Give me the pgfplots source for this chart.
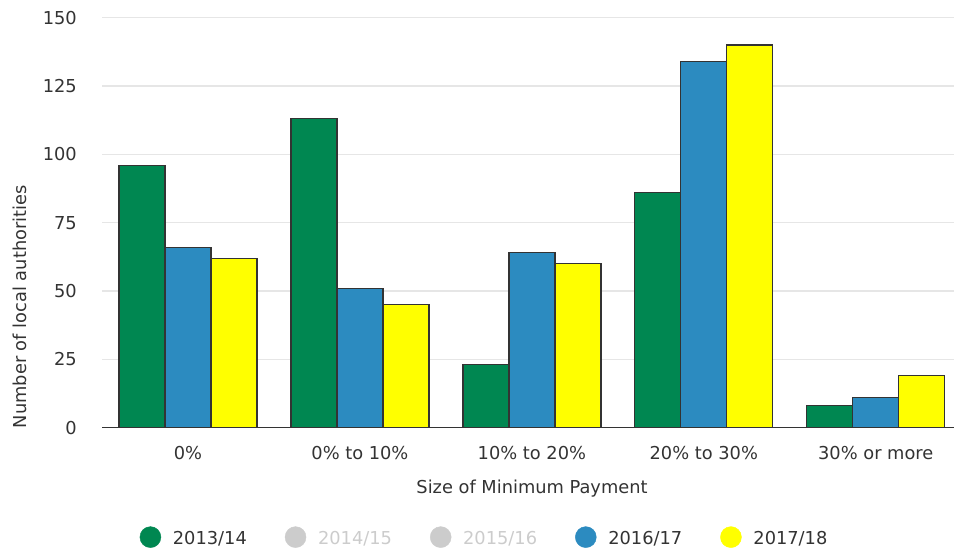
\documentclass[border=0pt]{standalone}
\usepackage{fontspec}
\setmainfont{DejaVu Sans}
\usepackage{pgfplots}
\pgfplotsset{compat=1.18}
\definecolor{cgreen}{RGB}{0,135,81}
\definecolor{cblue}{RGB}{44,139,192}
\definecolor{cyellow}{RGB}{255,255,0}
\definecolor{cgrey}{RGB}{204,204,204}
\definecolor{ctext}{RGB}{51,51,51}
\definecolor{cgrid}{RGB}{230,230,230}
\begin{document}
\fontsize{17.8bp}{21bp}\selectfont
\begin{tikzpicture}
\useasboundingbox (0,0) rectangle (954bp,554bp);
\begin{axis}[
  at={(102bp,126.3bp)}, anchor=south west,
  scale only axis, width=852bp, height=410bp,
  xmin=-0.5, xmax=4.455, ymin=0, ymax=150,
  axis lines*=left,
  y axis line style={draw=none},
  x axis line style={ctext, line width=1.5bp},
  ytick={0,25,...,150},
  ymajorgrids, grid style={cgrid, line width=1.2bp},
  xtick={0,1,2,3,4},
  xticklabels={0\%, 0\% to 10\%, 10\% to 20\%, 20\% to 30\%, 30\% or more},
  major tick length=0pt,
  /pgf/number format/assume math mode=true,
  tick label style={color=ctext, font=\fontsize{17.8bp}{21bp}\selectfont},
  yticklabel style={anchor=east, inner sep=0pt, xshift=-25bp},
  xticklabel style={anchor=base, inner sep=0pt, yshift=-31.8bp},
  ylabel={Number of local authorities},
  ylabel style={at={(rel axis cs:-0.0962,0.295)}, anchor=center, inner sep=0pt, color=ctext, font=\fontsize{17.8bp}{21bp}\selectfont},
  xlabel={Size of Minimum Payment},
  xlabel style={at={(rel axis cs:0.5047,0)}, anchor=base, inner sep=0pt, yshift=-66bp, color=ctext, font=\fontsize{17.8bp}{21bp}\selectfont},
  legend columns=5,
  legend style={at={(rel axis cs:0.449,-0.269)}, anchor=center, draw=none, fill=none,
    text=ctext, font=\fontsize{17.8bp}{21bp}\selectfont,
    /tikz/every even column/.append style={column sep=36bp}},
]
\addplot[ybar, bar width=46bp, bar shift=-46bp, fill=cgreen, draw=ctext, line width=1.3bp, forget plot]
  coordinates {(0,96) (1,113) (2,23) (3,86) (4,8)};
\addplot[ybar, bar width=46bp, bar shift=0bp, fill=cblue, draw=ctext, line width=1.3bp, forget plot]
  coordinates {(0,66) (1,51) (2,64) (3,134) (4,11)};
\addplot[ybar, bar width=46bp, bar shift=46bp, fill=cyellow, draw=ctext, line width=1.3bp, forget plot]
  coordinates {(0,62) (1,45) (2,60) (3,140) (4,19)};
\addlegendimage{legend image code/.code={\path[draw=none,fill=none] (0bp,0bp) rectangle (31bp,0.1bp); \fill[cgreen] (10.5bp,2.5bp) circle (10.5bp);}}
\addlegendentry{2013/14}
\addlegendimage{legend image code/.code={\path[draw=none,fill=none] (0bp,0bp) rectangle (31bp,0.1bp); \fill[cgrey] (10.5bp,2.5bp) circle (10.5bp);}}
\addlegendentry{\textcolor{cgrey}{2014/15}}
\addlegendimage{legend image code/.code={\path[draw=none,fill=none] (0bp,0bp) rectangle (31bp,0.1bp); \fill[cgrey] (10.5bp,2.5bp) circle (10.5bp);}}
\addlegendentry{\textcolor{cgrey}{2015/16}}
\addlegendimage{legend image code/.code={\path[draw=none,fill=none] (0bp,0bp) rectangle (31bp,0.1bp); \fill[cblue] (10.5bp,2.5bp) circle (10.5bp);}}
\addlegendentry{2016/17}
\addlegendimage{legend image code/.code={\path[draw=none,fill=none] (0bp,0bp) rectangle (31bp,0.1bp); \fill[cyellow] (10.5bp,2.5bp) circle (10.5bp);}}
\addlegendentry{2017/18}
\end{axis}
\end{tikzpicture}
\end{document}
